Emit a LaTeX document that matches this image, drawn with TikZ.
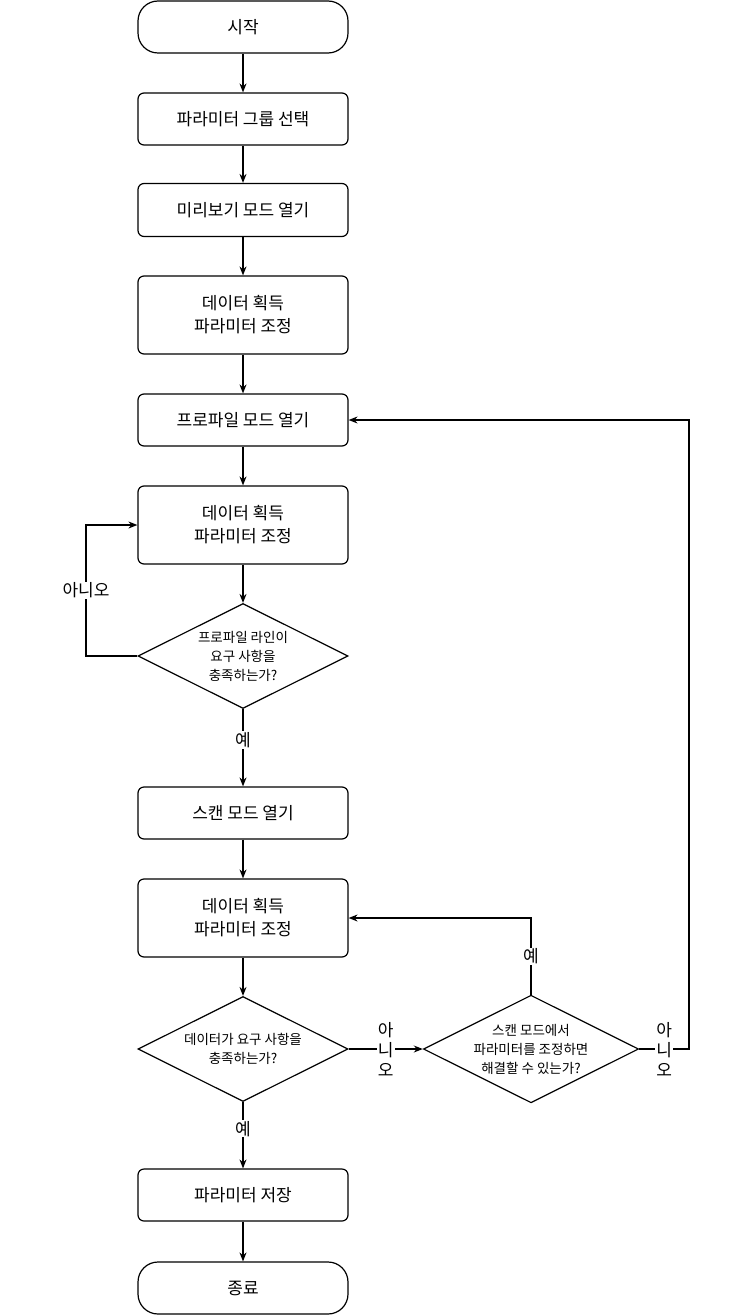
\documentclass[tikz,border=0pt]{standalone}
\usepackage{fontspec}
\setmainfont{Noto Sans CJK KR}
\usetikzlibrary{shapes.geometric,arrows.meta}
\begin{document}
\begin{tikzpicture}[x=1pt,y=-1pt,
  box/.style={draw,line width=1.2pt,rounded corners=6pt,minimum width=210pt,inner sep=0pt,align=center,font=\fontsize{17}{23}\selectfont},
  term/.style={box,rounded corners=20pt,minimum height=52pt},
  dec/.style={draw,line width=1.2pt,diamond,aspect=2,minimum width=210pt,minimum height=105pt,inner sep=0pt,align=center,font=\fontsize{13.5}{19}\selectfont},
  ar/.style={line width=1.2pt,-{Stealth[length=9pt,width=7pt]}},
  lbl/.style={fill=white,inner sep=1pt,font=\fontsize{17}{21}\selectfont,align=center}]
\useasboundingbox (0,0) rectangle (750,1316);
\node[term] (s) at (243,27) {시작};
\node[box,minimum height=52pt] (b1) at (243,119) {파라미터 그룹 선택};
\node[box,minimum height=53pt] (b2) at (243,210) {미리보기 모드 열기};
\node[box,minimum height=78pt] (b3) at (243,315) {데이터 획득\\파라미터 조정};
\node[box,minimum height=52pt] (b4) at (243,420) {프로파일 모드 열기};
\node[box,minimum height=78pt] (b5) at (243,525) {데이터 획득\\파라미터 조정};
\node[dec] (d1) at (243,656) {프로파일 라인이\\요구 사항을\\충족하는가?};
\node[box,minimum height=52pt] (b6) at (243,813) {스캔 모드 열기};
\node[box,minimum height=78pt] (b7) at (243,918) {데이터 획득\\파라미터 조정};
\node[dec] (d2) at (243,1049) {데이터가 요구 사항을\\충족하는가?};
\node[dec] (d3) at (531,1049) {스캔 모드에서\\파라미터를 조정하면\\해결할 수 있는가?};
\node[box,minimum height=52pt] (b8) at (243,1195) {파라미터 저장};
\node[term] (e) at (243,1288) {종료};
\coordinate (c1) at (86,656); \coordinate (c2) at (86,525);
\coordinate (c3) at (531,918);
\coordinate (c4) at (689,1049); \coordinate (c5) at (689,420);
\draw[ar] (s) -- (b1);
\draw[ar] (b1) -- (b2);
\draw[ar] (b2) -- (b3);
\draw[ar] (b3) -- (b4);
\draw[ar] (b4) -- (b5);
\draw[ar] (b5) -- (d1);
\draw[ar] (d1) -- node[lbl,pos=0.4]{예} (b6);
\draw[ar] (d1.west) -- (c1) -- node[lbl,pos=0.5]{아니오} (c2) -- (b5.west);
\draw[ar] (b6) -- (b7);
\draw[ar] (b7) -- (d2);
\draw[ar] (d2) -- node[lbl,pos=0.4]{예} (b8);
\draw[ar] (b8) -- (e);
\draw[ar] (d2.east) -- node[lbl,pos=0.5,font=\fontsize{17}{20}\selectfont]{아\\니\\오} (d3.west);
\draw[ar] (d3.north) -- node[lbl,pos=0.5]{예} (c3) -- (b7.east);
\draw[ar] (d3.east) -- node[lbl,pos=0.5,font=\fontsize{17}{20}\selectfont]{아\\니\\오} (c4) -- (c5) -- (b4.east);
\end{tikzpicture}
\end{document}
